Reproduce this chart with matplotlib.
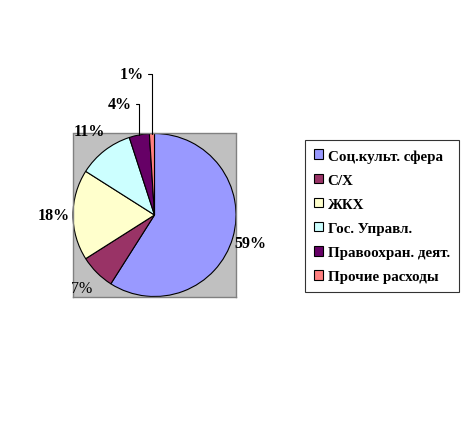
import matplotlib
matplotlib.use("Agg")
import matplotlib.pyplot as plt
import numpy as np

labels = ["Соц.культ. сфера", "С/Х", "ЖКХ", "Гос. Управл.", "Правоохран. деят.", "Прочие расходы"]
shares = [59, 7, 18, 11, 4, 1]
colors = ["#9999FF", "#993366", "#FFFFCC", "#CCFFFF", "#660066", "#FF8080"]

plt.rcParams["font.family"] = ["Liberation Serif", "DejaVu Serif"]

fig = plt.figure(figsize=(4.69, 4.31), dpi=100)
ax = fig.add_axes([73 / 469, (431 - 298) / 431, 163 / 469, 164 / 431])

wedges, _ = ax.pie(shares, colors=colors, startangle=90, counterclock=False,
                   radius=1.0, wedgeprops=dict(edgecolor="black", linewidth=0.8))
ax.set_frame_on(True)
ax.set_facecolor("#C0C0C0")
for sp in ax.spines.values():
    sp.set_edgecolor("#808080")
    sp.set_linewidth(1.0)
ax.set_xlim(-1.0, 1.0)
ax.set_ylim(-1.0, 1.0)
ax.set_aspect("equal")
ax.set_xticks([])
ax.set_yticks([])

# percentage labels
text_kw = dict(fontsize=11.5, fontweight="bold", ha="center", va="center")
dists = [1.23, 1.27, 1.24, 1.3]
for w, s, d in zip(wedges[:4], shares[:4], dists):
    mid = np.deg2rad((w.theta1 + w.theta2) / 2)
    kw = dict(text_kw)
    if s == 7:
        kw["fontweight"] = "normal"
    ax.text(d * np.cos(mid), d * np.sin(mid), f"{s}%", **kw)

# small slices with leader lines
offsets = [(-0.43, 1.36), (-0.28, 1.73)]
for w, s, (tx, ty) in zip(wedges[4:], shares[4:], offsets):
    mid = np.deg2rad((w.theta1 + w.theta2) / 2)
    ax.annotate(f"{s}%", xy=(np.cos(mid), np.sin(mid)), xytext=(tx, ty),
                annotation_clip=False,
                arrowprops=dict(arrowstyle="-", color="black", lw=0.8,
                                connectionstyle="angle,angleA=0,angleB=90,rad=0",
                                shrinkA=1, shrinkB=0, relpos=(1.0, 0.5)),
                **text_kw)

leg = fig.legend(wedges, labels, loc="upper left",
                 bbox_to_anchor=(305 / 469, 1 - 141 / 431),
                 frameon=True, fancybox=False, edgecolor="black",
                 prop=dict(family="Liberation Serif", weight="bold", size=10.8),
                 handlelength=0.6, handleheight=0.6, handletextpad=0.3,
                 labelspacing=0.74, borderpad=0.6, borderaxespad=0)
leg.get_frame().set_linewidth(0.8)

fig.savefig("out.png", dpi=100)
